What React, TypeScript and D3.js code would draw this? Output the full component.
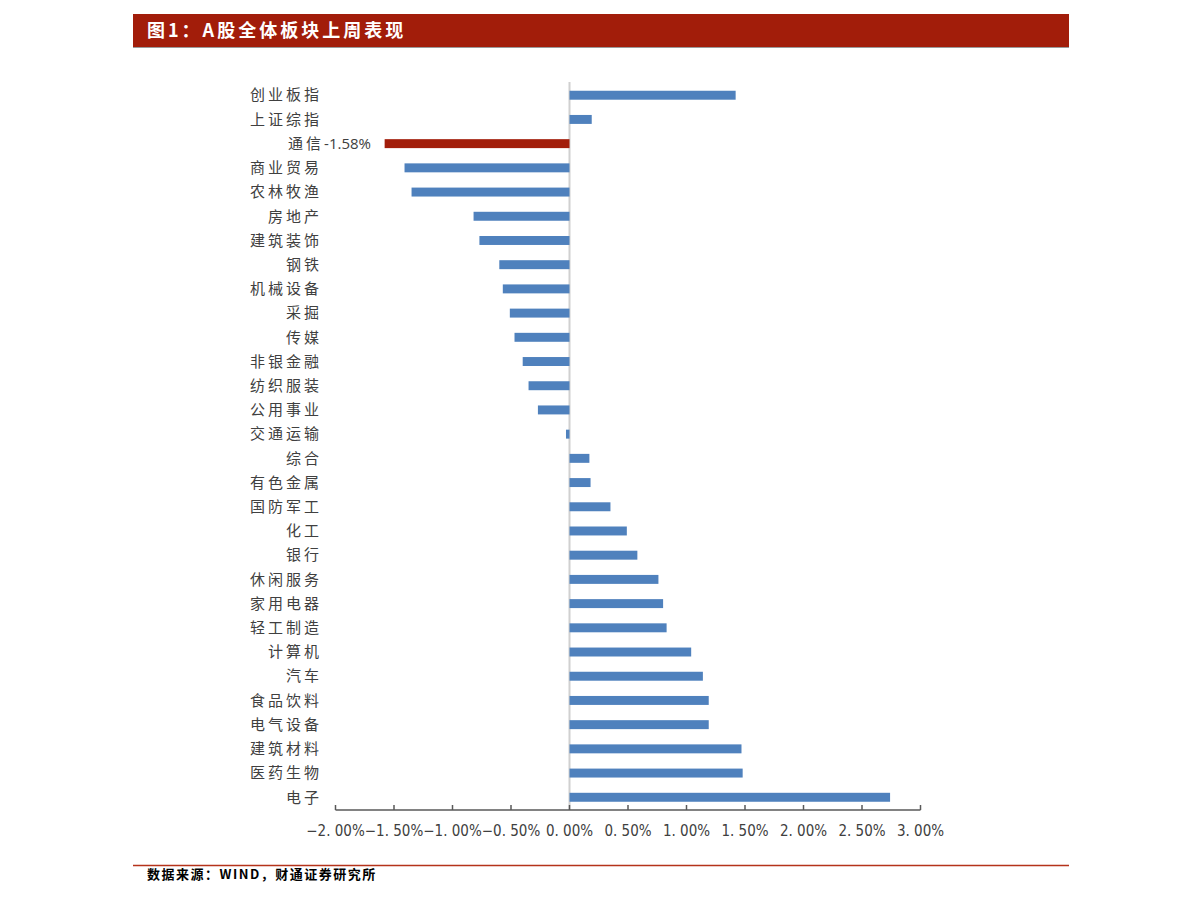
import React from "react";
import * as d3 from "d3";

const categories = ["创业板指","上证综指","通信","商业贸易","农林牧渔","房地产","建筑装饰","钢铁","机械设备","采掘","传媒","非银金融","纺织服装","公用事业","交通运输","综合","有色金属","国防军工","化工","银行","休闲服务","家用电器","轻工制造","计算机","汽车","食品饮料","电气设备","建筑材料","医药生物","电子"];
const values = [1.42,0.19,-1.58,-1.41,-1.35,-0.82,-0.77,-0.60,-0.57,-0.51,-0.47,-0.40,-0.35,-0.27,-0.03,0.17,0.18,0.35,0.49,0.58,0.76,0.80,0.83,1.04,1.14,1.19,1.19,1.47,1.48,2.74];
const highlight = "通信";
const tickValues = [-2,-1.5,-1,-0.5,0,0.5,1,1.5,2,2.5,3];
const title = "图1：A股全体板块上周表现";
const source = "数据来源：WIND，财通证券研究所";

export default function App() {
  const x = d3.scaleLinear().domain([-2, 3]).range([335.5, 920.5]);
  const y = d3.scaleBand().domain(categories).range([83, 809.5]).paddingInner(0.63).paddingOuter(0.32);
  const axisY = 810;
  const cjk = "'Noto Sans CJK SC', sans-serif";
  const hyphenFmt = d3.formatLocale({ decimal: ".", thousands: ",", grouping: [3], currency: ["", ""], minus: "-" }).format(".2f");
  return (
    <svg width={1191} height={903} style={{ position: "absolute", left: 0, top: 0, background: "#fff" }}>
      <rect x={133} y={14} width={936} height={33} fill="#A21D0A" />
      <line x1={133} x2={1069} y1={47.5} y2={47.5} stroke="#9a9a9a" strokeWidth={1} />
      <text x={147} y={37} fill="#fff" fontSize={18} fontWeight="bold" fontFamily={cjk} letterSpacing={3}>{title}</text>

      <line x1={x(0)} x2={x(0)} y1={82} y2={axisY} stroke="#d0d0d0" strokeWidth={2} />
      {categories.map((c, i) => {
        const v = values[i];
        const isH = c === highlight;
        const y0 = y(c)!;
        const yc = y0 + y.bandwidth() / 2;
        return (
          <g key={c}>
            <rect x={x(Math.min(0, v))} y={y0} width={Math.abs(x(v) - x(0))} height={y.bandwidth()} fill={isH ? "#A21D0A" : "#4F81BD"} />
            {isH ? (
              <text x={371} y={yc} dy="0.35em" textAnchor="end" fontSize={15} fill="#404040">
                <tspan fontFamily={cjk} letterSpacing={3}>{c}</tspan>
                <tspan fontFamily="'Open Sans', sans-serif">{hyphenFmt(v) + "%"}</tspan>
              </text>
            ) : (
              <text x={322} y={yc} dy="0.35em" textAnchor="end" fontSize={15} fill="#404040" fontFamily={cjk} letterSpacing={3}>{c}</text>
            )}
          </g>
        );
      })}

      <line x1={x(-2)} x2={x(3)} y1={axisY} y2={axisY} stroke="#595959" strokeWidth={1.5} />
      {tickValues.map((t) => (
        <g key={t}>
          <line x1={x(t)} x2={x(t)} y1={axisY - 5} y2={axisY} stroke="#595959" strokeWidth={1.5} />
          <text x={x(t)} y={836} textAnchor="middle" fontSize={15} fill="#404040" fontFamily="'DejaVu Sans Condensed', 'Liberation Sans Narrow', sans-serif">
            {d3.format(".2f")(t).replace("-", "−").replace(".", ". ") + "%"}
          </text>
        </g>
      ))}

      <line x1={133} x2={1069} y1={865.5} y2={865.5} stroke="#B5331B" strokeWidth={1.5} />
      <text x={147} y={879} fontSize={13} fontWeight="bold" fontFamily={cjk} fill="#000" letterSpacing={1.5}>{source}</text>
    </svg>
  );
}
